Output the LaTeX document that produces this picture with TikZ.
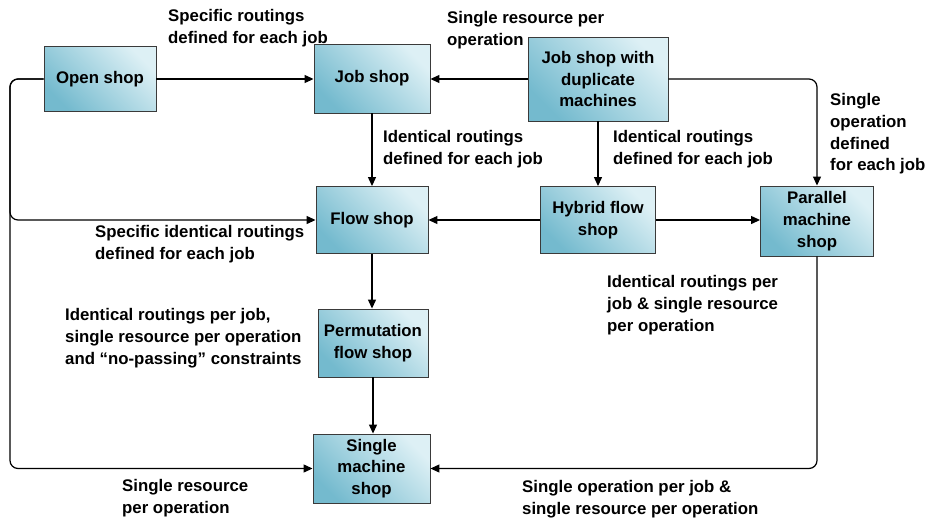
\documentclass[tikz,border=0pt]{standalone}
\usepackage{fontspec}
\setmainfont{Liberation Sans}
\usetikzlibrary{arrows.meta}
\definecolor{boxdark}{HTML}{74BACE}
\definecolor{boxmid}{HTML}{C3E4ED}
\definecolor{boxlight}{HTML}{DDF0F5}
\definecolor{boxline}{HTML}{3A3A3A}
\tikzset{
  shopbox/.style={draw=boxline, line width=0.9pt, bottom color=boxdark, middle color=boxmid, top color=boxlight, shading angle=-45,
    align=center, inner sep=2pt, font=\fontsize{16.8}{21.7}\selectfont\bfseries},
  lbl/.style={anchor=west, align=left, inner sep=0pt, font=\fontsize{16.8}{21.7}\selectfont\bfseries},
  conn/.style={draw=black, line width=1.2pt, rounded corners=8pt, -{Triangle[length=9pt,width=8pt]}}
}
\begin{document}
\begin{tikzpicture}[x=1pt,y=-1pt]
\useasboundingbox (0,0) rectangle (931,520);
% boxes
\node[shopbox, minimum width=112pt, minimum height=65pt] (open) at (100,79) {Open shop};
\node[shopbox, minimum width=116pt, minimum height=69pt] (job) at (372,78.5) {Job shop};
\node[shopbox, minimum width=140pt, minimum height=84pt] (jsd) at (598,79) {Job shop with\\duplicate\\machines};
\node[shopbox, minimum width=112pt, minimum height=67pt] (flow) at (372,220) {Flow shop};
\node[shopbox, minimum width=115pt, minimum height=67pt] (hyb) at (598,220) {Hybrid flow\\shop};
\node[shopbox, minimum width=113pt, minimum height=70pt] (par) at (817,221) {Parallel\\machine\\shop};
\node[shopbox, minimum width=110pt, minimum height=68pt] (perm) at (373,343) {Permutation\\flow shop};
\node[shopbox, minimum width=117pt, minimum height=69pt] (single) at (371.5,468.5) {Single\\machine\\shop};
% helper coordinates
\coordinate (lcol) at (10,79);
% connectors
\draw[conn] (open.east) -- (open.east -| job.west);
\draw[conn] (jsd.west) -- (jsd.west -| job.east);
\draw[conn] (job.south) -- (job.south |- flow.north);
\draw[conn] (jsd.south) -- (jsd.south |- hyb.north);
\draw[conn] (jsd.east) -| (par.north);
\draw[conn] (hyb.west) -- (hyb.west -| flow.east);
\draw[conn] (hyb.east) -- (hyb.east -| par.west);
\draw[conn] (open.west) -- (lcol) |- (flow.west);
\draw[conn] (open.west) -- (lcol) |- (single.west);
\draw[conn] (flow.south) -- (flow.south |- perm.north);
\draw[conn] (perm.south) -- (perm.south |- single.north);
\draw[conn] (par.south) |- (single.east);
% labels
\node[lbl] (l1) at (168,28) {Specific routings\\defined for each job};
\node[lbl] (l2) at (447,30) {Single resource per\\operation};
\node[lbl] (l3) at (383,149) {Identical routings\\defined for each job};
\node[lbl] (l4) at (613,149) {Identical routings\\defined for each job};
\node[lbl] (l5) at (830,134) {Single\\operation\\defined\\for each job};
\node[lbl] (l6) at (95,244) {Specific identical routings\\defined for each job};
\node[lbl] (l7) at (607,305) {Identical routings per\\job \& single resource\\per operation};
\node[lbl] (l8) at (65,338) {Identical routings per job,\\single resource per operation\\and “no-passing” constraints};
\node[lbl] (l9) at (122,498) {Single resource\\per operation};
\node[lbl] (l10) at (522,499) {Single operation per job \&\\single resource per operation};
\end{tikzpicture}
\end{document}
